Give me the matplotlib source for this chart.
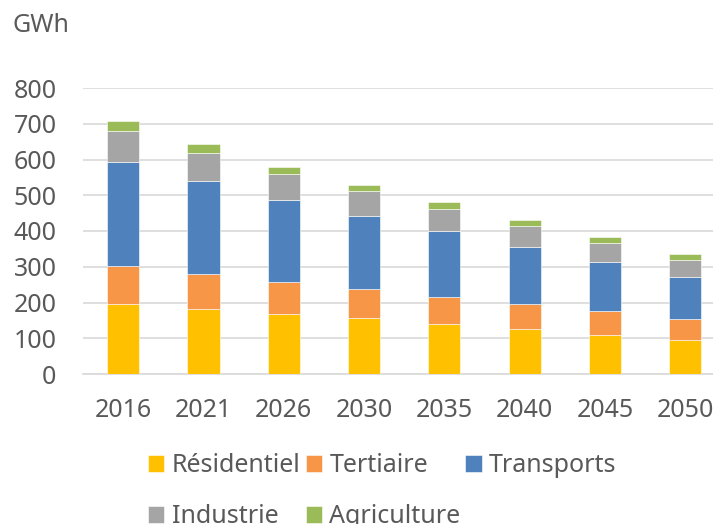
import matplotlib
matplotlib.use("Agg")
import matplotlib.pyplot as plt
import numpy as np

years = ["2016", "2021", "2026", "2030", "2035", "2040", "2045", "2050"]
residentiel = [195, 182, 167, 156, 141, 126, 110, 95]
tertiaire = [108, 98, 90, 82, 75, 69, 65, 58]
transports = [291, 259, 229, 205, 184, 161, 137, 117]
industrie = [86, 80, 73, 68, 61, 58, 54, 48]
agriculture = [27, 23, 19, 17, 19, 18, 18, 18]

series = [
    ("Résidentiel", residentiel, "#FFC000"),
    ("Tertiaire", tertiaire, "#F79646"),
    ("Transports", transports, "#4F81BD"),
    ("Industrie", industrie, "#A5A5A5"),
    ("Agriculture", agriculture, "#9BBB59"),
]

plt.rcParams["font.family"] = ["Noto Sans", "DejaVu Sans"]
txt = "#595959"
fs = 18

W, H = 713, 524
fig = plt.figure(figsize=(W / 100, H / 100), dpi=100)
ax = fig.add_axes([83 / W, 1 - 374 / H, 1 - 83 / W, (374 - 88) / H])

x = np.arange(len(years))
bottom = np.zeros(len(years))
bars = []
for name, vals, col in series:
    b = ax.bar(x, vals, width=0.4, bottom=bottom, color=col, label=name,
               edgecolor="white", linewidth=0.4, zorder=3)
    bars.append(b)
    bottom += np.array(vals)

ax.set_ylim(0, 800)
ax.set_xlim(-0.5, -0.5 + 630 / 80.3)
ax.set_yticks(range(0, 801, 100))
ax.yaxis.grid(True, color="#D9D9D9", linewidth=1.2, zorder=0)
ax.set_xticks(x)
ax.set_xticklabels(years)
for s in ["top", "right", "left"]:
    ax.spines[s].set_visible(False)
ax.spines["bottom"].set_color("#D9D9D9")
ax.spines["bottom"].set_linewidth(1.2)
ax.tick_params(axis="both", length=0, labelsize=fs, colors=txt)
ax.tick_params(axis="x", pad=17)
ax.tick_params(axis="y", pad=19)

fig.text(12 / W, 1 - 26 / H, "GWh", fontsize=fs, color=txt, va="center", ha="left")

# legend filled row by row: reorder for column-major layout
order = [0, 3, 1, 4, 2]
handles = [bars[i] for i in order]
labels = [series[i][0] for i in order]
leg = fig.legend(handles, labels, loc="upper left", bbox_to_anchor=(148 / W, 1 - 453 / H),
                 ncol=3, frameon=False, fontsize=fs, handlelength=0.65, handleheight=0.65,
                 handletextpad=0.3, columnspacing=0.2, labelspacing=1.05,
                 borderpad=0, borderaxespad=0)
for t in leg.get_texts():
    t.set_color(txt)

fig.savefig("out.png", dpi=100)
